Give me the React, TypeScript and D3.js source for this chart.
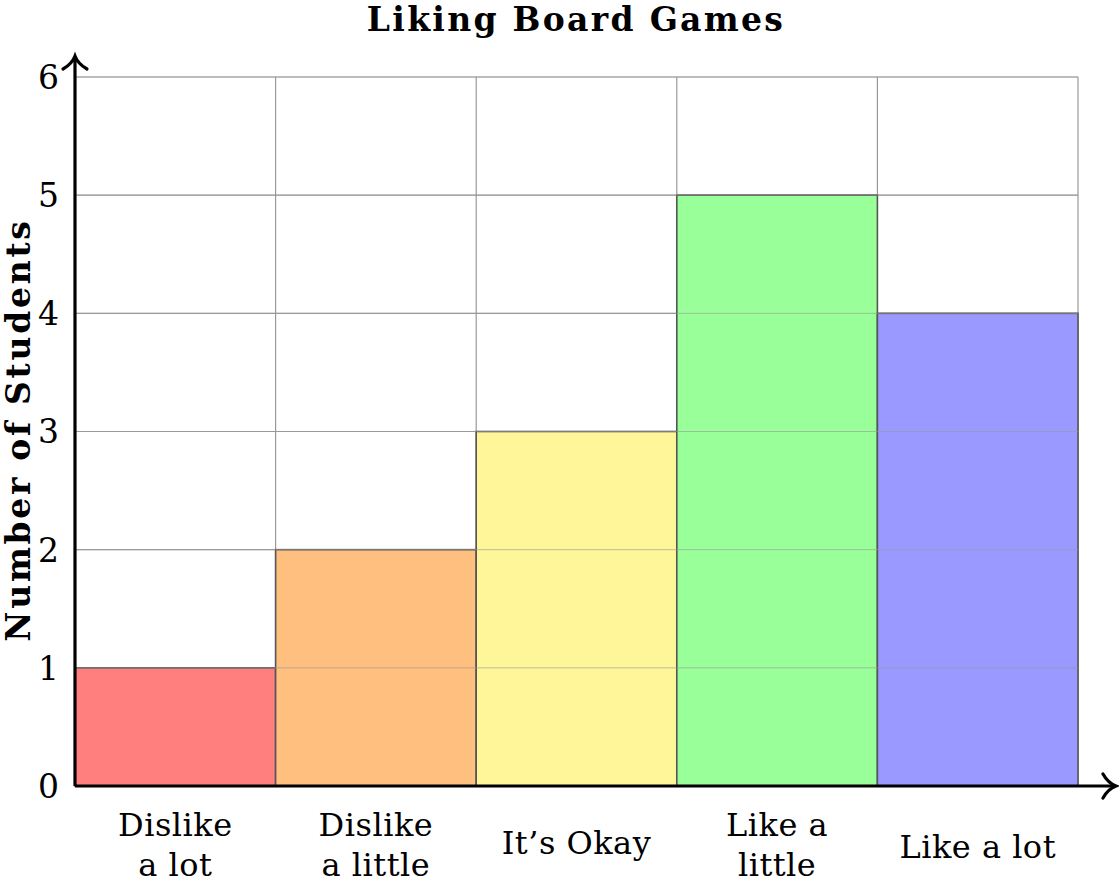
import React from "react";
import * as d3 from "d3";

const categories: string[][] = [["Dislike", "a lot"], ["Dislike", "a little"], ["It’s Okay"], ["Like a", "little"], ["Like a lot"]];
const values: number[] = [1, 2, 3, 5, 4];
const colors: string[] = ["#FF7F7F", "#FFBF7F", "#FFF599", "#99FF99", "#9999FF"];
const yTicks: number[] = [0, 1, 2, 3, 4, 5, 6];

export default function App() {
  const W = 1119, H = 885;
  const x0 = 75, x1 = 1078, y0 = 786, y1 = 77;
  const x = d3.scaleLinear().domain([0, categories.length]).range([x0, x1]);
  const y = d3.scaleLinear().domain([0, 6]).range([y0, y1]);
  const font = "'DejaVu Serif', 'Liberation Serif', serif";
  return (
    <svg width={W} height={H} style={{ position: "absolute", left: 0, top: 0, background: "#fff" }} fontFamily={font}>
      {yTicks.map((t) => (
        <line key={"gy" + t} x1={x0} x2={x1} y1={y(t)} y2={y(t)} stroke="#999" strokeWidth={1.2} />
      ))}
      {d3.range(categories.length + 1).map((i) => (
        <line key={"gx" + i} x1={x(i)} x2={x(i)} y1={y0} y2={y1} stroke="#999" strokeWidth={1.2} />
      ))}
      {values.map((v, i) => (
        <rect key={"b" + i} x={x(i)} y={y(v)} width={x(i + 1) - x(i)} height={y(0) - y(v)} fill={colors[i]} stroke="#555" strokeWidth={1.6} />
      ))}
      {yTicks.map((t) => (
        <line key={"gy2" + t} x1={x0} x2={x1} y1={y(t)} y2={y(t)} stroke="#999" strokeWidth={1} opacity={0.6} />
      ))}
      <line x1={x0} x2={1114} y1={y0} y2={y0} stroke="#000" strokeWidth={3.2} />
      <line x1={x0} x2={x0} y1={y0} y2={58} stroke="#000" strokeWidth={3.2} />
      <path d={`M ${1103} ${y0 - 12} Q ${1108} ${y0 - 3} ${1116} ${y0} Q ${1108} ${y0 + 3} ${1103} ${y0 + 12}`} fill="none" stroke="#000" strokeWidth={3.2} strokeLinecap="round" />
      <path d={`M ${x0 - 12} ${69} Q ${x0 - 3} ${64} ${x0} ${56} Q ${x0 + 3} ${64} ${x0 + 12} ${69}`} fill="none" stroke="#000" strokeWidth={3.2} strokeLinecap="round" />
      {yTicks.map((t) => (
        <text key={"yt" + t} x={59} y={y(t)} dy="0.36em" textAnchor="end" fontSize={33}>{t}</text>
      ))}
      {categories.map((c, i) => {
        const cx = (x(i) + x(i + 1)) / 2;
        if (c.length === 1) {
          return <text key={"xl" + i} x={cx} y={i === 2 ? 854 : 858} textAnchor="middle" fontSize={32} letterSpacing={0.5}>{c[0]}</text>;
        }
        return (
          <text key={"xl" + i} x={cx} textAnchor="middle" fontSize={32} letterSpacing={0.5}>
            <tspan x={cx} y={836}>{c[0]}</tspan>
            <tspan x={cx} y={876}>{c[1]}</tspan>
          </text>
        );
      })}
      <text x={576} y={31} textAnchor="middle" fontSize={33} fontWeight="bold" letterSpacing={2.3}>Liking Board Games</text>
      <text transform={`translate(30, 430) rotate(-90)`} textAnchor="middle" fontSize={33} fontWeight="bold" letterSpacing={2.7}>Number of Students</text>
    </svg>
  );
}
